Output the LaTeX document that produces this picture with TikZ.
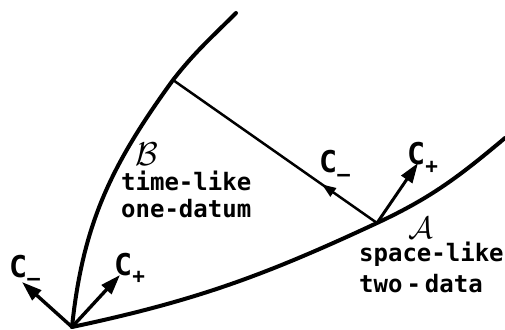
\documentclass[tikz,border=0pt]{standalone}
\usepackage{fontspec}
\setmainfont{DejaVu Sans Mono}
\usetikzlibrary{arrows.meta,decorations.markings}
\newcommand{\Csub}[1]{C\raisebox{-0.28em}{\fontsize{21}{21}\selectfont\bfseries #1}}
\tikzset{
  curve/.style={line width=4pt, line cap=round},
  ray/.style={line width=2.5pt},
  char/.style={line width=3.4pt, -{Triangle[length=20pt,width=13pt]}},
  lbl/.style={font=\fontsize{24}{24}\selectfont\bfseries, inner sep=0pt, anchor=base west},
  clbl/.style={font=\fontsize{30}{30}\selectfont\bfseries, inner sep=0pt, anchor=base west},
  midarrow/.style={postaction={decorate, decoration={markings,
      mark=at position 0.27 with {\arrow{Triangle[length=14pt,width=10pt]}}}}}
}
\begin{document}
\begin{tikzpicture}[x=1pt,y=1pt]
\useasboundingbox (0,0) rectangle (505,329);
% key points
\coordinate (O) at (72,2);
\coordinate (b) at (173,249);
\coordinate (Btop) at (236,316);
\coordinate (a) at (377,106);
\coordinate (Aend) at (505,191);
\coordinate (tOm) at (22,47);
\coordinate (tOp) at (120,54);
\coordinate (tAp) at (418,166);
% boundary curves
\draw[curve] (O) to[out=84,in=-126] (b) to[out=52,in=-135] (Btop);
\draw[curve] (O) to[out=12,in=-155] (a) to[out=25,in=-140] (Aend);
% C- characteristic from a to B
\draw[ray, midarrow] (a) -- (b);
% characteristic directions
\draw[char] (O) -- (tOm);
\draw[char] (O) -- (tOp);
\draw[char, line width=3pt] (a) -- (tAp);
% labels
\node (Blab) at (147,175) {\scalebox{3.3}{$\mathcal{B}$}};
\node (Alab) at (421,101) {\scalebox{3.1}{$\mathcal{A}$}};
\node[lbl] (tl) at (121,138) {time-like};
\node[lbl] (od) at (121,111) {one-datum};
\node[lbl] (sl) at (359,67) {space-like};
\node[lbl] (td) at (359,37) {two{\,}-{\,}data};
\node[clbl] (cm1) at (319,156) {\Csub{–}};
\node[clbl] (cp1) at (407,164) {\Csub{+}};
\node[clbl] (cm0) at (9,52) {\Csub{–}};
\node[clbl] (cp0) at (114,54) {\Csub{+}};
\end{tikzpicture}
\end{document}
